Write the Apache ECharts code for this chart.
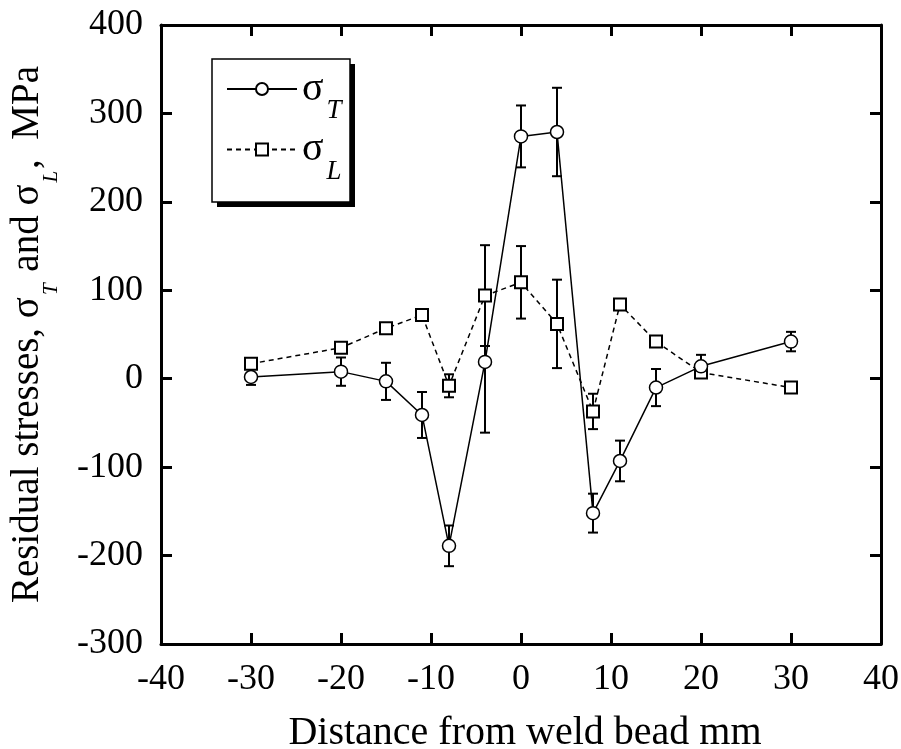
<!DOCTYPE html>
<html>
<head>
<meta charset="utf-8">
<script src="https://cdn.jsdelivr.net/npm/echarts@6/dist/echarts.min.js"></script>
<style>
html,body{margin:0;padding:0;background:#fff}
#main{width:901px;height:749px}
</style>
</head>
<body>
<div id="main"></div>
<script>
// distance from weld bead, mm
var distance = [-30, -20, -15, -11, -8, -4, 0, 4, 8, 11, 15, 20, 30];
// transverse stress sigma_T, MPa and its scatter
var sigmaT = [2, 8, -3, -41, -189, 19, 274, 279, -152, -93, -10, 14, 42];
var errT = [9, 16, 21, 26, 23, 80, 35, 50, 22, 23, 21, 13, 11];
// longitudinal stress sigma_L, MPa and its scatter
var sigmaL = [17, 35, 57, 72, -8, 94, 109, 62, -37, 84, 42, 7, -10];
var errL = [0, 0, 0, 0, 13, 57, 41, 50, 20, 0, 0, 0, 0];

var xTicks = [-40, 40, 10];
var yTicks = [-300, 400, 100];

var FONT = 'Liberation Serif';

function pairs(ys) {
	return distance.map(function (x, i) { return [x, ys[i]]; });
}
function bars(ys, es) {
	var out = [];
	distance.forEach(function (x, i) {
		if (es[i] > 0) out.push([x, ys[i] - es[i], ys[i] + es[i]]);
	});
	return out;
}

function renderErr(params, api) {
	var x = api.value(0);
	var lo = api.coord([x, api.value(1)]);
	var hi = api.coord([x, api.value(2)]);
	var w = 5;
	var st = { stroke: '#000', lineWidth: 2 };
	return {
		type: 'group',
		children: [
			{ type: 'line', shape: { x1: hi[0], y1: hi[1], x2: lo[0], y2: lo[1] }, style: st },
			{ type: 'line', shape: { x1: hi[0] - w, y1: hi[1], x2: hi[0] + w, y2: hi[1] }, style: st },
			{ type: 'line', shape: { x1: lo[0] - w, y1: lo[1], x2: lo[0] + w, y2: lo[1] }, style: st }
		]
	};
}

var myChart = echarts.init(document.getElementById('main'));

var axisLine = { show: true, onZero: false, lineStyle: { color: '#000', width: 3 } };
var axisTick = { show: true, inside: true, length: 11, lineStyle: { color: '#000', width: 3 } };

var option = {
	animation: false,
	backgroundColor: '#fff',
	grid: { left: 161, right: 20, top: 25, bottom: 105, outerBoundsMode: 'none' },
	graphic: [
		{ type: 'rect', z: 10, shape: { x: 217, y: 64, width: 138, height: 143 }, style: { fill: '#000' } },
		{ type: 'rect', z: 11, shape: { x: 212, y: 59, width: 138, height: 143 }, style: { fill: '#fff', stroke: '#000', lineWidth: 1.5 } }
	],
	legend: {
		z: 20,
		left: 226,
		top: 69,
		orient: 'vertical',
		itemWidth: 70,
		itemHeight: 15,
		itemGap: 5,
		padding: 0,
		data: ['sigmaT', 'sigmaL'],
		formatter: function (name) {
			return name === 'sigmaT' ? '{s|σ}{t|T}' : '{s|σ}{t|L}';
		},
		textStyle: {
			color: '#000',
			rich: {
				s: { fontFamily: FONT, fontSize: 40, color: '#000' },
				t: { fontFamily: FONT, fontSize: 27, fontStyle: 'italic', color: '#000', padding: [44, 0, 0, 3] }
			}
		}
	},
	xAxis: [{
		type: 'value',
		min: xTicks[0], max: xTicks[1], interval: xTicks[2],
		axisLine: axisLine,
		axisTick: axisTick,
		splitLine: { show: false },
		axisLabel: { color: '#000', fontFamily: FONT, fontSize: 36, margin: 18 },
		name: 'Distance from weld bead mm',
		nameLocation: 'middle',
		nameGap: 69,
		nameTextStyle: { color: '#000', fontFamily: FONT, fontSize: 40, padding: [0, 0, 0, 8] }
	}, {
		type: 'value', position: 'top',
		min: xTicks[0], max: xTicks[1], interval: xTicks[2],
		axisLine: axisLine, axisTick: axisTick,
		axisLabel: { show: false }, splitLine: { show: false }
	}],
	yAxis: [{
		type: 'value',
		min: yTicks[0], max: yTicks[1], interval: yTicks[2],
		axisLine: axisLine,
		axisTick: axisTick,
		splitLine: { show: false },
		axisLabel: { color: '#000', fontFamily: FONT, fontSize: 36, margin: 18 },
		name: 'Residual stresses, σ{t|T} and σ{t|L},  MPa',
		nameLocation: 'middle',
		nameGap: 99,
		nameTextStyle: {
			color: '#000', fontFamily: FONT, fontSize: 39,
			rich: {
				t: { fontFamily: FONT, fontSize: 21, fontStyle: 'italic', color: '#000', padding: [48, 2, 0, 2] }
			}
		}
	}, {
		type: 'value', position: 'right',
		min: yTicks[0], max: yTicks[1], interval: yTicks[2],
		axisLine: axisLine, axisTick: axisTick,
		axisLabel: { show: false }, splitLine: { show: false }
	}],
	series: [
		{
			type: 'custom', name: 'errT', renderItem: renderErr,
			encode: { x: 0, y: [1, 2] }, data: bars(sigmaT, errT), z: 1, silent: true
		},
		{
			type: 'custom', name: 'errL', renderItem: renderErr,
			encode: { x: 0, y: [1, 2] }, data: bars(sigmaL, errL), z: 1, silent: true
		},
		{
			name: 'sigmaL', type: 'line', data: pairs(sigmaL), z: 3,
			symbol: 'rect', symbolSize: 12,
			lineStyle: { color: '#000', width: 1.5, type: [5, 4] },
			itemStyle: { color: '#fff', borderColor: '#000', borderWidth: 2 }
		},
		{
			name: 'sigmaT', type: 'line', data: pairs(sigmaT), z: 4,
			symbol: 'circle', symbolSize: 13,
			lineStyle: { color: '#000', width: 1.5 },
			itemStyle: { color: '#fff', borderColor: '#000', borderWidth: 1.5 }
		}
	]
};

myChart.setOption(option);
window.onresize = myChart.resize;
</script>
</body>
</html>
